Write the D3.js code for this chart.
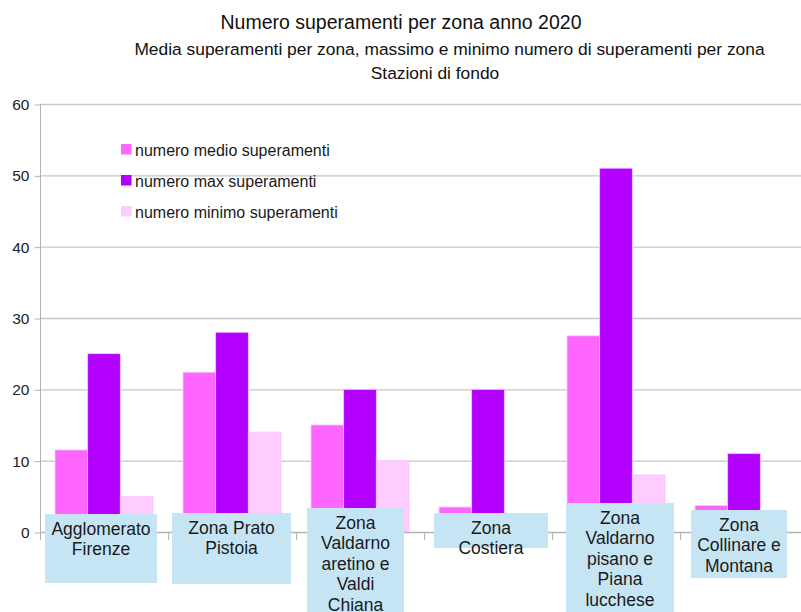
<!DOCTYPE html>
<html>
<head>
<meta charset="utf-8">
<script src="https://cdn.jsdelivr.net/npm/d3@7"></script>
<style>
    body { margin: 0; background: #fff; }
    svg { display: block; font-family: "Liberation Sans", Arial, sans-serif; }
</style>
</head>
<body>
<div id="chart"></div>
<script>
// chart values
var categories = [
    "Agglomerato Firenze",
    "Zona Prato Pistoia",
    "Zona Valdarno aretino e Valdi Chiana",
    "Zona Costiera",
    "Zona Valdarno pisano e Piana lucchese",
    "Zona Collinare e Montana"
];
// category labels as they wrap in the picture
var categoryLines = [
    ["Agglomerato", "Firenze"],
    ["Zona Prato", "Pistoia"],
    ["Zona", "Valdarno", "aretino e", "Valdi", "Chiana"],
    ["Zona", "Costiera"],
    ["Zona", "Valdarno", "pisano e", "Piana", "lucchese"],
    ["Zona", "Collinare e", "Montana"]
];
var seriesNames = ["numero medio superamenti", "numero max superamenti", "numero minimo superamenti"];
var medio = [11.5, 22.4, 15, 3.5, 27.5, 3.7];
var massimo = [25, 28, 20, 20, 51, 11];
var minimo = [5, 14, 10, 0, 8, 0];
var yTicks = [0, 10, 20, 30, 40, 50, 60];

var titleText = "Numero superamenti per zona anno 2020";
var subtitleText = "Media superamenti per zona, massimo e minimo numero di superamenti per zona";
var subtitle2Text = "Stazioni di fondo";

var colors = ["#ff66ff", "#b300ff", "#ffccff"];

// label boxes: offset from category centre, top, width, height
var labelBoxes = [
    {dx: -59, top: 514, w: 112, h: 69},
    {dx: -60, top: 513, w: 119, h: 71},
    {dx: -53, top: 508, w: 97, h: 110},
    {dx: -54, top: 513, w: 114, h: 35},
    {dx: -50, top: 503, w: 108, h: 115},
    {dx: -53, top: 510, w: 96, h: 68}
];

var width = 801, height = 612;

var svg = d3.select("#chart").append("svg")
    .attr("width", width)
    .attr("height", height);

var x = d3.scaleBand()
    .domain(categories)
    .range([40, 808])
    .padding(0);

var xSub = d3.scaleBand()
    .domain(seriesNames)
    .range([0, x.bandwidth()])
    .paddingInner(0)
    .paddingOuter(0.46);

var y = d3.scaleLinear()
    .domain([0, 60])
    .range([532, 104]);

// gridlines
svg.append("g")
    .selectAll("line")
    .data(yTicks.filter(function(d) { return d > 0; }))
    .enter()
    .append("line")
        .attr("x1", 40)
        .attr("x2", width)
        .attr("y1", function(d) { return y(d) + 0.5; })
        .attr("y2", function(d) { return y(d) + 0.5; })
        .attr("stroke", "#c6c6c6")
        .attr("stroke-width", 1.3);

// y axis
var yAxis = d3.axisLeft(y)
    .tickValues(yTicks)
    .tickSize(6)
    .tickPadding(5);

var yG = svg.append("g")
    .attr("transform", "translate(40.5,0.5)")
    .call(yAxis);
yG.select(".domain").remove();
yG.selectAll(".tick line").attr("stroke", "#b3b3b3");
yG.selectAll(".tick text")
    .attr("font-family", "Liberation Sans, Arial, sans-serif")
    .attr("font-size", "15.5px")
    .attr("fill", "#222");

svg.append("line")
    .attr("x1", 40.5).attr("x2", 40.5)
    .attr("y1", y(60)).attr("y2", y(0) + 8)
    .attr("stroke", "#b3b3b3");

// bars
var seriesData = [medio, massimo, minimo];
var groups = svg.append("g")
    .selectAll("g")
    .data(seriesNames)
    .enter()
    .append("g")
        .attr("fill", function(d, i) { return colors[i]; });

groups.selectAll("rect")
    .data(function(d, i) {
        return categories.map(function(c, j) {
            return {cat: c, series: d, value: seriesData[i][j]};
        }).filter(function(e) { return e.value > 0; });
    })
    .enter()
    .append("rect")
        .attr("x", function(d) { return x(d.cat) + xSub(d.series); })
        .attr("width", xSub.bandwidth())
        .attr("y", function(d) { return y(d.value); })
        .attr("height", function(d) { return y(0) - y(d.value); })
        .attr("stroke", "#f4c8ff")
        .attr("stroke-width", 0.8);

// x axis line with ticks at category boundaries
svg.append("line")
    .attr("x1", 40).attr("x2", width)
    .attr("y1", y(0) + 0.5).attr("y2", y(0) + 0.5)
    .attr("stroke", "#b3b3b3")
    .attr("stroke-width", 1.3);

svg.append("g")
    .selectAll("line")
    .data(categories)
    .enter()
    .append("line")
        .attr("x1", function(d) { return Math.round(x(d)) + 0.5; })
        .attr("x2", function(d) { return Math.round(x(d)) + 0.5; })
        .attr("y1", y(0))
        .attr("y2", y(0) + 8)
        .attr("stroke", "#b3b3b3");

// category labels with boxes
var labels = svg.append("g")
    .selectAll("g")
    .data(categories)
    .enter()
    .append("g");

labels.append("rect")
    .attr("x", function(d, i) { return x(d) + x.bandwidth() / 2 + labelBoxes[i].dx; })
    .attr("y", function(d, i) { return labelBoxes[i].top; })
    .attr("width", function(d, i) { return labelBoxes[i].w; })
    .attr("height", function(d, i) { return labelBoxes[i].h; })
    .attr("fill", "#c5e5f5");

labels.each(function(d, i) {
    var box = labelBoxes[i];
    var cx = x(d) + x.bandwidth() / 2 + box.dx + box.w / 2;
    d3.select(this).selectAll("text")
        .data(categoryLines[i])
        .enter()
        .append("text")
            .attr("x", cx)
            .attr("y", function(l, k) { return box.top + 20.5 + k * 20.6; })
            .attr("text-anchor", "middle")
            .attr("font-size", "17.5px")
            .attr("fill", "#1a1a1a")
            .text(function(l) { return l; });
});

// legend
var legend = svg.append("g")
    .selectAll("g")
    .data(seriesNames)
    .enter()
    .append("g")
        .attr("transform", function(d, i) { return "translate(121," + (144 + i * 31) + ")"; });

legend.append("rect")
    .attr("width", 10.5)
    .attr("height", 10.5)
    .attr("fill", function(d, i) { return colors[i]; });

legend.append("text")
    .attr("x", 14)
    .attr("y", 12)
    .attr("font-size", "16px")
    .attr("fill", "#1a1a1a")
    .text(function(d) { return d; });

// titles
svg.append("text")
    .attr("x", 401)
    .attr("y", 29)
    .attr("text-anchor", "middle")
    .attr("font-size", "19.5px")
    .attr("fill", "#111")
    .text(titleText);

svg.append("text")
    .attr("x", 449.5)
    .attr("y", 54.5)
    .attr("text-anchor", "middle")
    .attr("font-size", "17.4px")
    .attr("fill", "#111")
    .text(subtitleText);

svg.append("text")
    .attr("x", 435)
    .attr("y", 79)
    .attr("text-anchor", "middle")
    .attr("font-size", "17.4px")
    .attr("fill", "#111")
    .text(subtitle2Text);
</script>
</body>
</html>
